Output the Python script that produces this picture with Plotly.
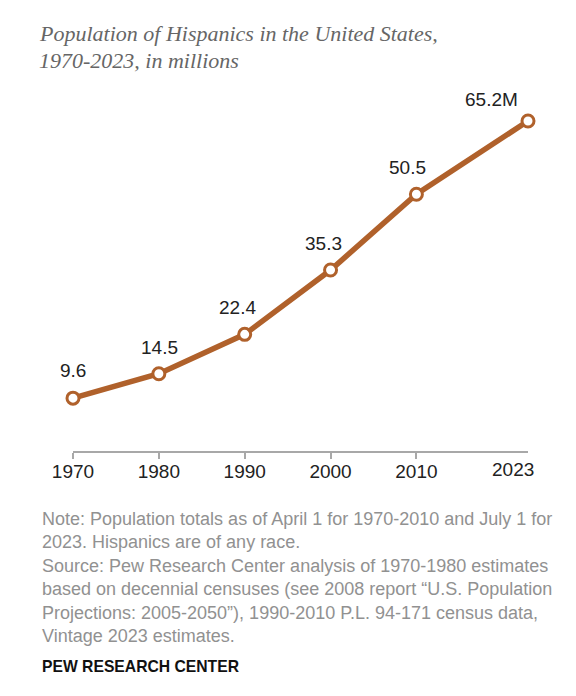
import plotly.graph_objects as go

years = [1970, 1980, 1990, 2000, 2010, 2023]
population = [9.6, 14.5, 22.4, 35.3, 50.5, 65.2]
value_labels = ["9.6", "14.5", "22.4", "35.3", "50.5", "65.2M"]
tick_years = [1970, 1980, 1990, 2000, 2010]

title_lines = ["Population of Hispanics in the United States,",
               "1970-2023, in millions"]
note_lines = [
    "Note: Population totals as of April 1 for 1970-2010 and July 1 for",
    "2023. Hispanics are of any race.",
    "Source: Pew Research Center analysis of 1970-1980 estimates",
    "based on decennial censuses (see 2008 report \u201cU.S. Population",
    "Projections: 2005-2050\u201d), 1990-2010 P.L. 94-171 census data,",
    "Vintage 2023 estimates.",
]

# page has an 8px body margin, so the figure is a bit smaller
W, H = 560, 680
OFF = 8
ML, MR, MT, MB = 65, 40, 109, 237
BROWN = "#B0612B"
SANS = "Liberation Sans, Arial, sans-serif"


def px(x, y):
    # screen pixel position -> paper coords
    pw = W - ML - MR
    ph = H - MT - MB
    return (x - OFF - ML) / pw, (H - MB - (y - OFF)) / ph


fig = go.Figure()
fig.add_trace(go.Scatter(
    x=years, y=population, mode="lines+markers",
    line=dict(color=BROWN, width=5.5),
    marker=dict(size=12, color="white", line=dict(color=BROWN, width=3)),
    cliponaxis=False, hoverinfo="skip", showlegend=False,
))

# value labels above points
xshifts = [0, 1, -7, -7, -9, -37]
yshifts = [15, 14, 14, 14, 14, 9]
for yr, v, lab, xs, ys in zip(years, population, value_labels, xshifts, yshifts):
    fig.add_annotation(x=yr, y=v, text=lab, showarrow=False,
                       xanchor="center", yanchor="bottom",
                       xshift=xs, yshift=ys,
                       font=dict(family=SANS, size=19, color="#222222"))

# 2023 axis label (no tick mark)
fig.add_annotation(x=years[-1], y=0, yref="paper", text=str(years[-1]),
                   showarrow=False, xanchor="center", yanchor="top",
                   xshift=-15, yshift=-6,
                   font=dict(family=SANS, size=19, color="#222222"))

# title
for i, line in enumerate(title_lines):
    x, y = px(37, 33 + i * 27)
    fig.add_annotation(x=x, y=y, xref="paper", yref="paper", text=line,
                       showarrow=False, xanchor="left", yanchor="middle",
                       font=dict(family="Liberation Serif, serif", size=22,
                                 color="#666666", style="italic"))

# notes
for i, line in enumerate(note_lines):
    x, y = px(40, 519 + i * 23.4)
    fig.add_annotation(x=x, y=y, xref="paper", yref="paper", text=line,
                       showarrow=False, xanchor="left", yanchor="middle",
                       font=dict(family=SANS, size=18, color="#919191"))

x, y = px(40, 666)
fig.add_annotation(x=x, y=y, xref="paper", yref="paper",
                   text="<b>PEW RESEARCH CENTER</b>",
                   showarrow=False, xanchor="left", yanchor="middle",
                   font=dict(family=SANS, size=15.7, color="#111111"))

fig.update_xaxes(range=[1970, 2023], tickvals=tick_years,
                 ticktext=[str(t) for t in tick_years],
                 showgrid=False, zeroline=False,
                 showline=True, linecolor="#a8a8a8", linewidth=2,
                 ticks="outside", ticklen=6, tickwidth=2, tickcolor="#a8a8a8",
                 ticklabelstandoff=-4,
                 tickfont=dict(family=SANS, size=19, color="#222222"))
fig.update_yaxes(range=[-1, 66], visible=False)

fig.update_layout(width=W, height=H, autosize=False,
                  margin=dict(l=ML, r=MR, t=MT, b=MB),
                  plot_bgcolor="white", paper_bgcolor="white")

fig.write_html("out.html")
